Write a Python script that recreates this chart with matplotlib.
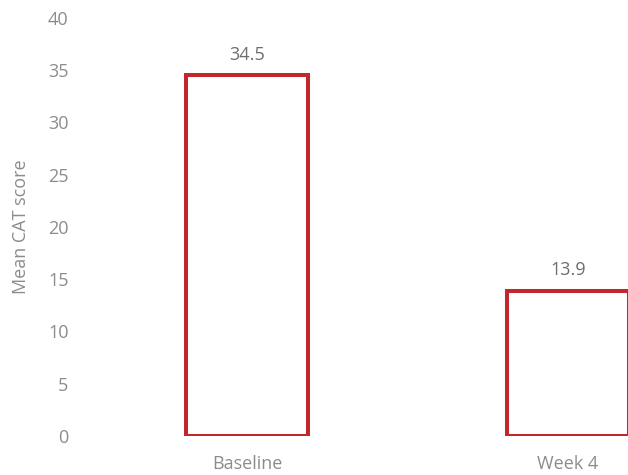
"""Mean CAT score at baseline and week 4, hollow red bars with value labels."""

import matplotlib
matplotlib.use("Agg")
import matplotlib.pyplot as plt
import numpy as np

timepoints = ["Baseline", "Week 4"]
mean_cat = [34.5, 13.9]
y_ticks = [0, 5, 10, 15, 20, 25, 30, 35, 40]

BAR_RED = "#C1272D"
TICK_GREY = "#8C8C8C"
VALUE_GREY = "#6E6E6E"
FS = 13

plt.rcParams["font.family"] = ["Open Sans", "DejaVu Sans"]

W, H = 628, 475
fig = plt.figure(figsize=(W / 100, H / 100), dpi=100)

# plot area runs past the right edge, so the second bar is cut off
left_px, right_px = 86.5, 728.5
bottom_px, top_px = 436, 18
ax = fig.add_axes([left_px / W, (H - bottom_px) / H,
                   (right_px - left_px) / W, (bottom_px - top_px) / H])

x = np.arange(len(timepoints))
bars = ax.bar(x, mean_cat, width=0.38, facecolor="white",
              edgecolor=BAR_RED, linewidth=2.9, zorder=2)

for bar, val in zip(bars, mean_cat):
    ax.annotate(f"{val:.1f}", (bar.get_x() + bar.get_width() / 2, val),
                xytext=(0, 8.5), textcoords="offset points",
                ha="center", va="bottom", fontsize=FS, color=VALUE_GREY)

ax.set_xlim(-0.5, 1.5)
ax.set_ylim(0, 40)
ax.set_yticks(y_ticks)
ax.set_xticks(x)
ax.set_xticklabels(timepoints)
ax.tick_params(axis="y", length=0, pad=13, labelsize=FS, labelcolor=TICK_GREY)
ax.tick_params(axis="x", length=0, pad=14, labelsize=FS, labelcolor=TICK_GREY)
ax.set_ylabel("Mean CAT score", fontsize=FS, color=TICK_GREY, labelpad=13)

for side in ("top", "right", "bottom", "left"):
    ax.spines[side].set_visible(False)

fig.savefig("out.png", dpi=100)
